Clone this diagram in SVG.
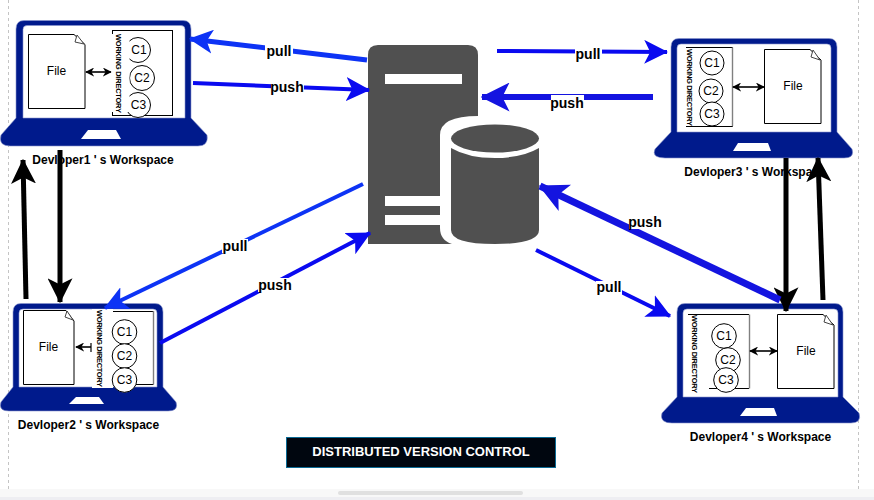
<svg xmlns="http://www.w3.org/2000/svg" width="874" height="500" viewBox="0 0 874 500">
<style>
text{font-family:"Liberation Sans",Arial,sans-serif;fill:#000}
.lap{fill:#001a8c;fill-rule:evenodd;stroke:#8a96cc;stroke-width:.6}
.pad{fill:#fff}
.doc{fill:#fff;stroke:#000;stroke-width:1}
.ed{fill:none;stroke:#808080;stroke-width:1.4}
.fold{fill:#fff;stroke:#444;stroke-width:1}
.box{fill:none;stroke:#000;stroke-width:1}
.c{fill:#fff;stroke:#000;stroke-width:1}
.t{font-size:12px;text-anchor:middle}
.wd{font-size:7.5px;font-weight:bold}
.cap{font-size:12px;font-weight:bold;text-anchor:middle}
.lb{font-size:14px;font-weight:bold;text-anchor:middle}
.bg{fill:#fff}
.dbl{fill:none;stroke:#000;stroke-width:1.6;marker-start:url(#sm);marker-end:url(#sm)}
.a{fill:none}
.b1{stroke:#0d33f5}.b2{stroke:#0a0af0}.b3{stroke:#1414e0}
.k{stroke:#000}
</style>
<defs>
<marker id="m1" viewBox="0 0 10 10" refX="9.500" refY="5" markerWidth="24" markerHeight="24" markerUnits="userSpaceOnUse" orient="auto"><path d="M0 0L10 5L0 10L2.500 5Z" fill="#0d33f5"/></marker>
<marker id="m2" viewBox="0 0 10 10" refX="9.500" refY="5" markerWidth="24" markerHeight="24" markerUnits="userSpaceOnUse" orient="auto"><path d="M0 0L10 5L0 10L2.500 5Z" fill="#0a0af0"/></marker>
<marker id="m3" viewBox="0 0 10 10" refX="9.500" refY="5" markerWidth="29" markerHeight="29" markerUnits="userSpaceOnUse" orient="auto"><path d="M0 0L10 5L0 10L2.500 5Z" fill="#1414e0"/></marker>
<marker id="mk" viewBox="0 0 10 10" refX="9.500" refY="5" markerWidth="5" markerHeight="5" markerUnits="strokeWidth" orient="auto"><path d="M0 0L10 5L0 10L2.500 5Z" fill="#000"/></marker>
<marker id="sm" viewBox="0 0 10 10" refX="9" refY="5" markerWidth="9" markerHeight="9" markerUnits="userSpaceOnUse" orient="auto-start-reverse"><path d="M0 0L10 5L0 10L3 5Z" fill="#000"/></marker>
</defs>
<rect width="874" height="500" fill="#fff"/>
<g id="page">
<path d="M8.500 0V489M858.500 0V489" stroke="#c4c4c4" stroke-dasharray="3 3" fill="none"/>
<rect y="489" width="874" height="11" fill="#f8f8f8"/>
<rect y="497" width="874" height="3" fill="#eeeef2"/>
<rect x="338" y="491" width="185" height="4" rx="2" fill="#e0e0e0"/>
</g>
<g id="dev1">
<path class="lap" d="M24 20.500H183Q191 20.500 191 29V118L207 135Q209 146 198 146H10Q-2 146 1 135L16 118V29Q16 20.500 24 20.500ZM27 25.500Q23 25.500 23 29.500V118H185V29.500Q185 25.500 181 25.500Z"/>
<path class="pad" d="M88 130H116L121 139H81Z"/>
<path class="doc" d="M28.500 34.500H74L85 44.500V108.500H28.500Z"/>
<path class="ed" d="M85 45V108"/><path class="fold" d="M77 35L84 44L75 42Z"/>
<text class="t" x="56.500" y="75">File</text>
<path class="dbl" d="M86 72H111"/>
<rect class="box" x="112.500" y="30.500" width="60" height="85"/>
<circle class="c" cx="138" cy="50" r="12.500"/><circle class="c" cx="142" cy="78" r="12.500"/><circle class="c" cx="138" cy="105" r="12.500"/>
<rect class="bg" x="111.500" y="34" width="18" height="78"/>
<text class="t" x="139" y="54">C1</text><text class="t" x="142" y="82">C2</text><text class="t" x="138.500" y="109">C3</text>
<text class="wd" transform="translate(116,34) rotate(90)" textLength="79" lengthAdjust="spacing">WORKING DIRECTORY</text>
<text class="cap" x="103" y="164">Devloper1 ' s Workspace</text>
</g>
<g id="dev2">
<path class="lap" d="M21 303.500H155Q163 303.500 163 312V387L176 402Q179 411 168 411H9Q-2 411 1 402L13 387V312Q13 303.500 21 303.500ZM23 309Q19 309 19 313V387H157V313Q157 309 153 309Z"/>
<path class="pad" d="M76 397H99L104 404H69Z"/>
<path class="doc" d="M23.500 310.500H66L74 321V384.500H23.500Z"/>
<path class="ed" d="M74 321V384"/><path class="fold" d="M67 311L73 320L65 317Z"/>
<text class="t" x="48.500" y="351">File</text>
<path d="M91 347H76" fill="none" stroke="#000" stroke-width="1.600" marker-end="url(#sm)"/><path d="M91 343V352" stroke="#000" stroke-width="1.200"/>
<path class="box" d="M113 311.500H153.500M113 384.500H153.500"/><path class="ed" d="M153.500 311V384.500"/>
<rect class="bg" x="92" y="309" width="21" height="79"/>
<circle class="c" cx="124.500" cy="332" r="12.300"/><circle class="c" cx="124.500" cy="356" r="12.300"/><circle class="c" cx="124.500" cy="380" r="12.300"/>
<text class="t" x="124.500" y="336">C1</text><text class="t" x="124.500" y="360">C2</text><text class="t" x="124.500" y="384">C3</text>
<text class="wd" transform="translate(97,310) rotate(90)" textLength="77" lengthAdjust="spacing">WORKING DIRECTORY</text>
<text class="cap" x="88.500" y="429">Devloper2 ' s Workspace</text>
</g>
<g id="dev3">
<path class="lap" d="M679 38.500H829Q837 38.500 837 47V132L852 149Q855 158 844 158H665Q651 158 655 149L671 132V47Q671 38.500 679 38.500ZM681 44Q677 44 677 48V132H831V48Q831 44 827 44Z"/>
<path class="pad" d="M738 143H768L771 151H733Z"/>
<path class="box" d="M686 47.500H732.500V126.500H686"/><path class="ed" d="M732.500 47.500V126"/>
<rect class="bg" x="686" y="48.500" width="15" height="77"/>
<circle class="c" cx="712" cy="63" r="12"/><circle class="c" cx="711" cy="91" r="12"/><circle class="c" cx="712" cy="114" r="12"/>
<text class="t" x="712" y="67">C1</text><text class="t" x="711" y="95">C2</text><text class="t" x="712" y="118">C3</text>
<text class="wd" transform="translate(687,49) rotate(90)" textLength="77" lengthAdjust="spacing">WORKING DIRECTORY</text>
<path class="dbl" d="M733 87H764"/>
<path class="doc" d="M764.500 49.500H810L821 60V123.500H764.500Z"/>
<path class="ed" d="M821 60V123"/><path class="fold" d="M813 50L820 60L811 57Z"/>
<text class="t" x="793" y="90">File</text>
<text class="cap" x="755" y="176">Devloper3 ' s Workspace</text>
</g>
<g id="dev4">
<path class="lap" d="M685 303.500H835Q843 303.500 843 312V397L859 413Q862 423 851 423H672Q659 423 662 413L677 397V312Q677 303.500 685 303.500ZM687 309Q683 309 683 313V397H838V313Q838 309 834 309Z"/>
<path class="pad" d="M746 408H774L777 416H740Z"/>
<path class="box" d="M688 314.500H749M709 388.500H749"/><path class="ed" d="M749.500 314.500V388.500"/>
<circle class="c" cx="724" cy="336" r="12.300"/><circle class="c" cx="728" cy="360" r="12.300"/><circle class="c" cx="726" cy="380" r="12.300"/>
<text class="t" x="724" y="340">C1</text><text class="t" x="728" y="364">C2</text><text class="t" x="726" y="384">C3</text>
<text class="wd" transform="translate(692,315) rotate(90)" textLength="78" lengthAdjust="spacing">WORKING DIRECTORY</text>
<path class="dbl" d="M750 351H777"/>
<path class="doc" d="M777.500 314.500H823L834 325V388.500H777.500Z"/>
<path class="ed" d="M834 325V388"/><path class="fold" d="M826 315L833 325L824 322Z"/>
<text class="t" x="806" y="355">File</text>
<text class="cap" x="760.500" y="441">Devloper4 ' s Workspace</text>
</g>
<g id="server">
<path d="M378 45H468Q478 45 478 55V116Q440 116 440 135V228Q440 240 452 244H368V55Q368 45 378 45Z" fill="#505050"/>
<rect x="385" y="74" width="77" height="10" fill="#fff"/>
<rect x="385" y="196" width="56" height="10" fill="#fff"/>
<rect x="385" y="215" width="56" height="10" fill="#fff"/>
<ellipse cx="495" cy="138.500" rx="44" ry="14" fill="#505050"/>
<path d="M451 148Q468 158 495 158Q522 158 539 148V230Q539 244 495 244Q451 244 451 230Z" fill="#505050"/>
</g>
<g id="connectors" class="a">
<path class="k" stroke-width="5" marker-end="url(#mk)" d="M26 299L23 160"/>
<path class="k" stroke-width="5" marker-end="url(#mk)" d="M60 150V302"/>
<path class="k" stroke-width="5" marker-end="url(#mk)" d="M786 158V311"/>
<path class="k" stroke-width="5" marker-end="url(#mk)" d="M823 300L818 158"/>
<path class="b1" stroke-width="5" marker-end="url(#m1)" d="M367 60L190 39"/>
<path class="b2" stroke-width="4" marker-end="url(#m2)" d="M193 83L369 90"/>
<path class="b2" stroke-width="4" marker-end="url(#m2)" d="M497 51L667 52"/>
<path class="b3" stroke-width="6" marker-end="url(#m3)" d="M653 97H482"/>
<path class="b1" stroke-width="4" marker-end="url(#m1)" d="M363 184L105 308"/>
<path class="b2" stroke-width="4" marker-end="url(#m2)" d="M160 343L370 233"/>
<path class="b3" stroke-width="7" marker-end="url(#m3)" d="M780 300L540 186"/>
<path class="b2" stroke-width="4" marker-end="url(#m2)" d="M536 250L670 316"/>
<rect class="bg" x="265" y="45" width="28" height="15"/><text class="lb" x="279" y="56">pull</text>
<rect class="bg" x="271" y="81" width="33" height="14"/><text class="lb" x="287" y="92">push</text>
<rect class="bg" x="575" y="48" width="27" height="14"/><text class="lb" x="588" y="59">pull</text>
<rect class="bg" x="551" y="95" width="33" height="15"/><text class="lb" x="567" y="108">push</text>
<rect class="bg" x="222" y="239" width="26" height="14"/><text class="lb" x="235" y="251">pull</text>
<rect class="bg" x="258" y="278" width="33" height="14"/><text class="lb" x="275" y="290">push</text>
<rect class="bg" x="629" y="215" width="33" height="14"/><text class="lb" x="645" y="227">push</text>
<rect class="bg" x="596" y="281" width="26" height="14"/><text class="lb" x="609" y="292">pull</text>
</g>
<g id="title">
<rect x="286.500" y="437.500" width="269" height="30" fill="#00060f" stroke="#0a6a94" stroke-width="1"/>
<text x="421" y="456" font-size="13" font-weight="bold" text-anchor="middle" style="fill:#fff">DISTRIBUTED VERSION CONTROL</text>
</g>
</svg>
